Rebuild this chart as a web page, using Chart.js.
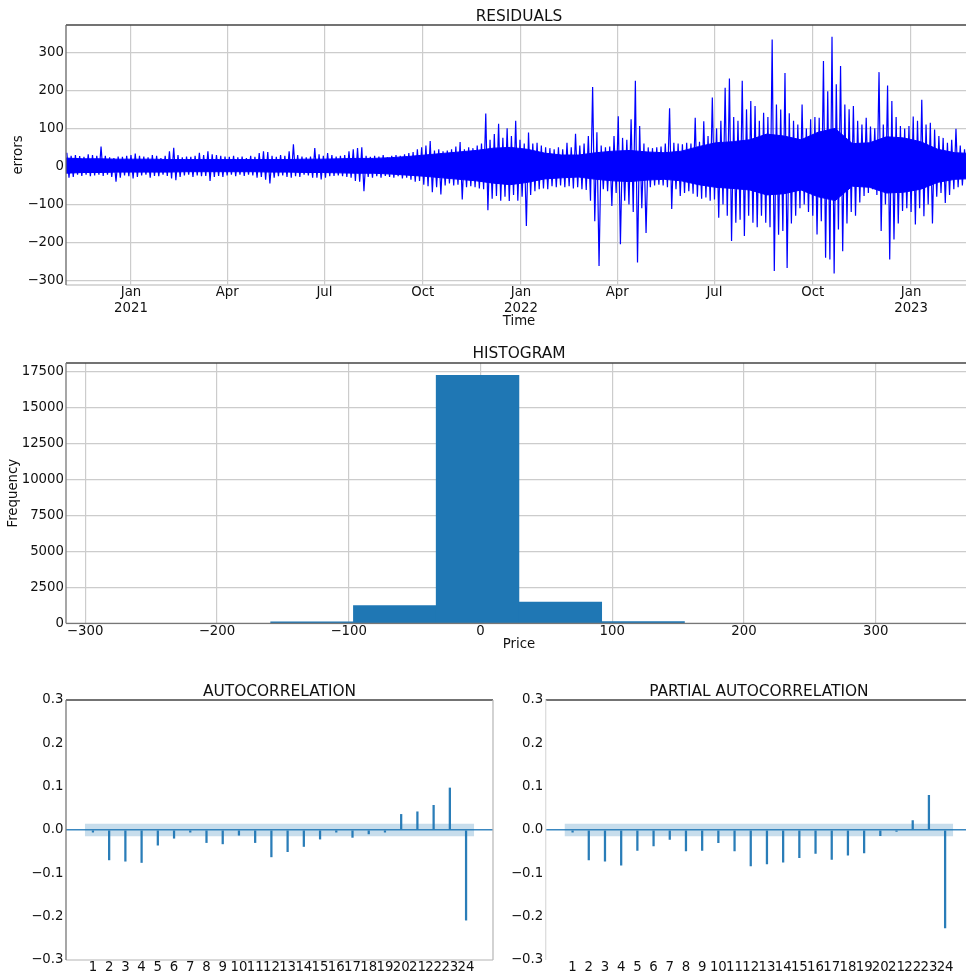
<!DOCTYPE html>
<html>
<head>
<meta charset="utf-8">
<title>Residual diagnostics</title>
<script src="https://cdn.jsdelivr.net/npm/chart.js@4.4.1/dist/chart.umd.min.js"></script>
<style>
  html, body { margin: 0; padding: 0; background: #fff; }
  body { width: 966px; height: 976px; overflow: hidden; position: relative; }
  .panel { position: absolute; }
  #residualsBox { left: 0; top: 0; width: 980px; height: 335px; }
  #histBox { left: 0; top: 335px; width: 980px; height: 320px; }
  #acfBox { left: 0; top: 670px; width: 500px; height: 306px; }
  #pacfBox { left: 500px; top: 670px; width: 480px; height: 306px; }
</style>
</head>
<body>
<div class="panel" id="residualsBox"><canvas id="residuals"></canvas></div>
<div class="panel" id="histBox"><canvas id="histogram"></canvas></div>
<div class="panel" id="acfBox"><canvas id="acf"></canvas></div>
<div class="panel" id="pacfBox"><canvas id="pacf"></canvas></div>

<script>
// ---- data ----------------------------------------------------------------

// residuals: high / low envelope, one pair per 4-day bucket
const residualStart = '2020-11-01';
const residualStepDays = 4;
const residualHigh = [
    36, 28, 30, 27, 25, 32, 30, 28, 52, 28,
    24, 22, 26, 25, 28, 30, 34, 28, 26, 24,
    30, 28, 22, 28, 40, 49, 30, 24, 26, 25,
    28, 36, 30, 40, 32,
    30, 28, 26, 25, 28, 24, 26, 22, 28, 25,
    35, 40, 38, 28, 25, 30, 28, 40, 58, 30,
    26, 24, 26, 48, 32, 28, 35, 30, 26, 28,
    30, 40, 45, 48, 50,
    28, 25, 28, 26, 30, 24, 28, 30, 28, 32,
    35, 38, 45, 50, 55, 67, 42, 45, 40, 42,
    45, 52, 64, 45, 50, 48, 55, 60, 139, 70,
    85, 112, 75, 100, 80,
    120, 70, 60, 89, 60, 62, 55, 50, 48, 45,
    50, 45, 62, 50, 86, 55, 60, 80, 209, 90,
    55, 50, 52, 80, 132, 75, 70, 124, 225, 106,
    60, 50, 48, 50, 52,
    60, 153, 62, 60, 58, 62, 60, 128, 65, 119,
    80, 181, 100, 120, 207, 231, 130, 120, 225, 150,
    172, 159, 120, 141, 130, 334, 163, 150, 246, 140,
    120, 110, 163, 100, 124, 130,
    128, 277, 198, 341, 216, 264, 163, 150, 159, 120,
    110, 128, 105, 100, 248, 110, 213, 172, 130, 106,
    100, 106, 131, 120, 175, 110, 115, 97, 80, 75,
    62, 70, 99, 55, 45, 42
];
const residualLow = [
    -30, -28, -22, -25, -22, -26, -24, -22, -25, -22,
    -28, -40, -30, -24, -26, -32, -28, -24, -22, -30,
    -25, -26, -22, -25, -32, -36, -28, -24, -22, -28,
    -24, -26, -25, -38, -28,
    -25, -28, -24, -22, -26, -22, -25, -22, -24, -30,
    -28, -35, -45, -30, -26, -24, -28, -30, -26, -28,
    -22, -24, -30, -30, -34, -30, -26, -25, -24, -26,
    -28, -30, -38, -40, -65,
    -28, -30, -26, -30, -25, -28, -30, -26, -32, -30,
    -35, -40, -38, -48, -52, -68, -55, -74, -50, -45,
    -50, -48, -87, -55, -52, -55, -58, -60, -115, -85,
    -78, -90, -80, -91, -75,
    -90, -80, -157, -75, -65, -60, -58, -60, -52, -55,
    -50, -55, -52, -58, -55, -60, -62, -90, -144, -262,
    -60, -65, -104, -70, -205, -90, -100, -120, -253, -110,
    -175, -55, -50, -48, -50,
    -55, -112, -60, -78, -70, -65, -72, -80, -85, -82,
    -90, -87, -135, -100, -130, -196, -148, -140, -183, -130,
    -148, -160, -130, -148, -160, -275, -180, -170, -267, -150,
    -130, -110, -100, -120, -130, -179,
    -144, -240, -245, -282, -166, -223, -150, -120, -130, -95,
    -78, -70, -60, -75, -170, -100, -245, -192, -150, -117,
    -110, -120, -153, -110, -131, -100, -150, -80, -70, -96,
    -75, -60, -55, -50, -39, -42
];
// dense core of the residual band, one pair per 16 days (read at each period's start)
const coreStepDays = 16;
const coreHigh = [
    22, 20, 20, 19, 19, 19, 18, 18, 18, 18,
    18, 18, 18, 18, 19, 19, 20, 21, 21, 23,
    26, 30, 34, 38, 42, 48, 50, 45, 35, 30,
    30, 36, 40, 42, 38, 36, 40, 52, 62, 65,
    70, 85, 80, 70, 90, 100, 60, 62, 78, 75,
    65, 45, 36, 34
];
const coreLow = [
    -18, -16, -16, -15, -15, -15, -15, -14, -14, -14,
    -14, -14, -15, -15, -16, -16, -17, -18, -18, -20,
    -23, -26, -30, -34, -38, -44, -48, -42, -33, -30,
    -28, -34, -38, -40, -36, -34, -38, -48, -55, -58,
    -62, -75, -72, -62, -80, -90, -52, -55, -70, -68,
    -60, -42, -34, -32
];
const residualTickDates = ['2021-01-01', '2021-04-01', '2021-07-01', '2021-10-01',
    '2022-01-01', '2022-04-01', '2022-07-01', '2022-10-01', '2023-01-01'];
const residualTickLabels = [['Jan', '2021'], 'Apr', 'Jul', 'Oct',
    ['Jan', '2022'], 'Apr', 'Jul', 'Oct', ['Jan', '2023']];
const residualYTicks = [-300, -200, -100, 0, 100, 200, 300];

// histogram of the residuals (10 bins)
const histEdges = [-284.8, -222.0, -159.2, -96.4, -33.6, 29.2, 92.0, 154.8, 217.6, 280.4, 343.2];
const histCounts = [0, 0, 110, 1230, 17250, 1470, 120, 0, 0, 0];
const histXTicks = [-300, -200, -100, 0, 100, 200, 300];
const histYTicks = [0, 2500, 5000, 7500, 10000, 12500, 15000, 17500];

// correlograms
const lags = [1, 2, 3, 4, 5, 6, 7, 8, 9, 10, 11, 12, 13, 14, 15, 16, 17, 18, 19, 20, 21, 22, 23, 24];
const acfValues = [-0.005, -0.069, -0.072, -0.075, -0.035, -0.019, -0.005, -0.029, -0.032, -0.012,
    -0.029, -0.062, -0.050, -0.038, -0.021, -0.005, -0.017, -0.009, -0.005, 0.036,
    0.042, 0.057, 0.097, -0.208];
const pacfValues = [-0.005, -0.069, -0.072, -0.081, -0.047, -0.037, -0.022, -0.048, -0.047, -0.029,
    -0.048, -0.083, -0.078, -0.074, -0.064, -0.054, -0.068, -0.058, -0.053, -0.013,
    -0.003, 0.022, 0.080, -0.226];
const bandLags = [0.5, 24.5];
const bandUpper = [0.0146, 0.0146];
const bandLower = [-0.0146, -0.0146];
const corrYTicks = [-0.3, -0.2, -0.1, 0, 0.1, 0.2, 0.3];

// ---- helpers -------------------------------------------------------------

const FONT = "'DejaVu Sans', sans-serif";
const TEXT = '#111';
Chart.defaults.font.family = FONT;
Chart.defaults.font.size = 13.3;
Chart.defaults.color = TEXT;

const dayOf = s => (Date.parse(s) - Date.parse('2021-01-01')) / 86400000;
const minus = s => String(s).replace('-', '\u2212');
const fixedTicks = values => scale => { scale.ticks = values.map(v => ({ value: v })); };

// matplotlib-like spines drawn around the plot area
const spines = {
    id: 'spines',
    afterDraw(chart, args, opts) {
        const { ctx, chartArea: a } = chart;
        const sides = {
            top: [a.left, a.top, a.right, a.top],
            bottom: [a.left, a.bottom, a.right, a.bottom],
            left: [a.left, a.top, a.left, a.bottom],
            right: [a.right, a.top, a.right, a.bottom]
        };
        ctx.save();
        ctx.lineWidth = 1.3;
        Object.keys(sides).forEach(k => {
            if (!opts[k]) return;
            const [x1, y1, x2, y2] = sides[k];
            ctx.strokeStyle = opts[k];
            ctx.beginPath();
            ctx.moveTo(x1, y1);
            ctx.lineTo(x2, y2);
            ctx.stroke();
        });
        ctx.restore();
    }
};
Chart.register(spines);

function titleOpts(text, top, bottom) {
    return {
        display: true, text: text, fullSize: false, color: TEXT,
        font: { size: 15.4, weight: 'normal', lineHeight: 1 },
        padding: { top: top, bottom: bottom }
    };
}

const gridOpts = { color: '#cccccc', lineWidth: 1.2, drawTicks: false, offset: false };

function baseOptions(title, titleTop, titleBottom, padRight, spineOpts) {
    return {
        animation: false,
        responsive: true,
        maintainAspectRatio: false,
        events: [],
        layout: { padding: { left: 0, right: padRight, top: 0, bottom: 0 } },
        plugins: {
            legend: { display: false },
            tooltip: { enabled: false },
            title: titleOpts(title, titleTop, titleBottom),
            spines: spineOpts
        }
    };
}

// ---- residuals -------------------------------------------------------------

const t0 = dayOf(residualStart);
const residualPoints = [];
residualHigh.forEach((hi, i) => {
    const d = t0 + i * residualStepDays;
    residualPoints.push({ x: d + 1, y: hi }, { x: d + 3, y: residualLow[i] });
});
const coreDays = coreHigh.map((v, j) => t0 + j * coreStepDays);
const residualTickDays = residualTickDates.map(dayOf);

const resOpts = baseOptions('RESIDUALS', 9.3, 0.3, 8, { top: '#444', left: '#666', bottom: '#cccccc' });
resOpts.scales = {
    x: {
        type: 'linear', min: -60.8, max: 787,
        afterBuildTicks: fixedTicks(residualTickDays),
        afterFit: s => { s.height = 50; },
        grid: gridOpts,
        border: { display: false },
        ticks: {
            autoSkip: false, maxRotation: 0, minRotation: 0, padding: 0,
            callback: (v, i) => residualTickLabels[i]
        },
        title: { display: true, text: 'Time', padding: { top: 0, bottom: 5.3 } }
    },
    y: {
        min: -312, max: 372,
        afterBuildTicks: fixedTicks(residualYTicks),
        afterFit: s => { s.width = 66; },
        grid: gridOpts,
        border: { display: false },
        ticks: { padding: 2, callback: v => minus(v) },
        title: { display: true, text: 'errors', padding: { top: 11, bottom: 0 } }
    }
};

new Chart(document.getElementById('residuals'), {
    type: 'line',
    data: {
        datasets: [
            {
                data: coreDays.map((x, j) => ({ x: x, y: coreHigh[j] })),
                borderColor: '#0000ff', borderWidth: 1, pointRadius: 0,
                backgroundColor: '#0000ff', fill: '+1'
            },
            {
                data: coreDays.map((x, j) => ({ x: x, y: coreLow[j] })),
                borderColor: '#0000ff', borderWidth: 1, pointRadius: 0, fill: false
            },
            {
                label: 'errors',
                data: residualPoints,
                borderColor: '#0000ff',
                borderWidth: 1.2,
                borderJoinStyle: 'bevel',
                pointRadius: 0,
                tension: 0,
                fill: false
            }
        ]
    },
    options: resOpts
});

// ---- histogram -------------------------------------------------------------

const histPoints = histCounts.map((c, i) => ({ x: (histEdges[i] + histEdges[i + 1]) / 2, y: c }));

const histOpts = baseOptions('HISTOGRAM', 11.3, 1.3, 8, { top: '#444', left: '#777', bottom: '#777' });
histOpts.scales = {
    x: {
        type: 'linear', min: -314.5, max: 373, offset: false, z: 1,
        afterBuildTicks: fixedTicks(histXTicks),
        afterFit: s => { s.height = 31.7; },
        grid: gridOpts,
        border: { display: false },
        ticks: { autoSkip: false, maxRotation: 0, padding: 0, callback: v => minus(v) },
        title: { display: true, text: 'Price', padding: { top: 0, bottom: 2 } }
    },
    y: {
        min: 0, max: 18110, z: 1,
        afterBuildTicks: fixedTicks(histYTicks),
        afterFit: s => { s.width = 66; },
        grid: gridOpts,
        border: { display: false },
        ticks: { padding: 2, callback: v => String(v) },
        title: { display: true, text: 'Frequency', padding: { top: 5.3, bottom: 0 } }
    }
};

new Chart(document.getElementById('histogram'), {
    type: 'bar',
    data: {
        datasets: [{
            label: 'Frequency',
            data: histPoints,
            backgroundColor: '#1f77b4',
            borderWidth: 0,
            barPercentage: 1,
            categoryPercentage: 1,
            grouped: false
        }]
    },
    options: histOpts
});

// ---- ACF / PACF ------------------------------------------------------------

function corrChart(canvasId, title, values, axisWidth, padRight, spineOpts) {
    const opts = baseOptions(title, 14, 0.6, padRight, spineOpts);
    opts.scales = {
        x: {
            type: 'linear', min: -0.66, max: 25.66, offset: false,
            afterBuildTicks: fixedTicks(lags),
            afterFit: s => { s.height = 16; },
            grid: { display: false, drawTicks: false },
            border: { display: false },
            ticks: { autoSkip: false, maxRotation: 0, minRotation: 0, padding: 0 }
        },
        y: {
            min: -0.3, max: 0.3, z: 1,
            afterBuildTicks: fixedTicks(corrYTicks),
            afterFit: s => { s.width = axisWidth; },
            grid: {
                drawTicks: false, lineWidth: 1.5,
                color: c => (c.tick && c.tick.value === 0 ? '#3a87c0' : 'rgba(0,0,0,0)')
            },
            border: { display: false },
            ticks: { padding: 2.5, callback: v => minus(v.toFixed(1)) }
        }
    };
    return new Chart(document.getElementById(canvasId), {
        type: 'bar',
        data: {
            datasets: [
                {
                    type: 'line',
                    data: bandLags.map((x, i) => ({ x: x, y: bandUpper[i] })),
                    borderWidth: 0, pointRadius: 0,
                    backgroundColor: 'rgba(31,119,180,0.25)',
                    fill: '+1'
                },
                {
                    type: 'line',
                    data: bandLags.map((x, i) => ({ x: x, y: bandLower[i] })),
                    borderWidth: 0, pointRadius: 0, fill: false
                },
                {
                    type: 'bar',
                    data: lags.map((l, i) => ({ x: l, y: values[i] })),
                    backgroundColor: '#2a7db8',
                    barThickness: 1.6,
                    grouped: false
                }
            ]
        },
        options: opts
    });
}

corrChart('acf', 'AUTOCORRELATION', acfValues, 66, 7,
    { top: '#444', left: '#777', right: '#bbbbbb', bottom: '#cccccc' });
corrChart('pacf', 'PARTIAL AUTOCORRELATION', pacfValues, 45.7, 8,
    { top: '#444', left: '#dddddd' });
</script>
</body>
</html>
